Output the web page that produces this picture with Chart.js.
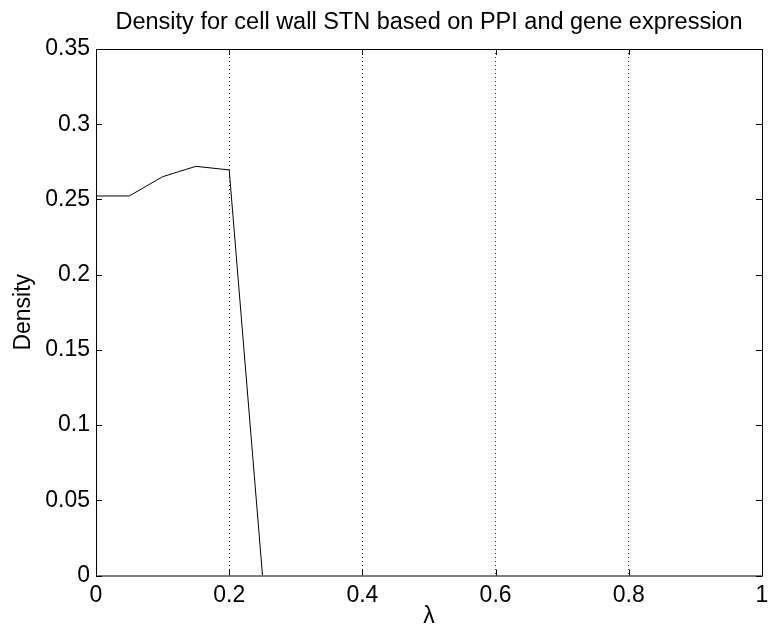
<!DOCTYPE html>
<html lang="en">
<head>
  <meta charset="UTF-8" />
  <title>Density for cell wall STN</title>
  <script src="https://cdn.jsdelivr.net/npm/chart.js"></script>
  <style>
    html, body {
      margin: 0;
      padding: 0;
      background: #fff;
    }
    #wrap {
      width: 770px;
      height: 632px;
    }
  </style>
</head>
<body>
  <div id="wrap"><canvas id="densityChart"></canvas></div>

  <script>
    // data
    const lambdaValues = [0, 0.05, 0.1, 0.15, 0.2, 0.25];
    const densityValues = [0.2523, 0.2523, 0.2651, 0.2720, 0.2696, 0];
    const xTicks = [0, 0.2, 0.4, 0.6, 0.8, 1];
    const yTicks = [0, 0.05, 0.1, 0.15, 0.2, 0.25, 0.3, 0.35];

    const FONT = 'Arial, "Liberation Sans", Helvetica, sans-serif';

    // box round the axes with inward ticks on all four sides (matlab style)
    const boxPlugin = {
      id: 'box',
      afterDraw(chart) {
        const ctx = chart.ctx;
        const a = chart.chartArea;
        const xs = chart.scales.x, ys = chart.scales.y;
        const len = 6;
        ctx.save();
        ctx.strokeStyle = '#000';
        ctx.lineWidth = 1;
        ctx.strokeRect(a.left + 0.5, a.top + 0.5, a.right - a.left, a.bottom - a.top);
        ctx.beginPath();
        xTicks.forEach(v => {
          const px = Math.round(xs.getPixelForValue(v)) + 0.5;
          ctx.moveTo(px, a.bottom); ctx.lineTo(px, a.bottom - len);
          ctx.moveTo(px, a.top); ctx.lineTo(px, a.top + len);
        });
        yTicks.forEach(v => {
          const py = Math.round(ys.getPixelForValue(v)) + 0.5;
          ctx.moveTo(a.left, py); ctx.lineTo(a.left + len, py);
          ctx.moveTo(a.right, py); ctx.lineTo(a.right - len, py);
        });
        ctx.stroke();
        ctx.restore();
      }
    };

    const ctx = document.getElementById('densityChart').getContext('2d');
    new Chart(ctx, {
      type: 'line',
      data: {
        datasets: [{
          data: lambdaValues.map((x, i) => ({ x: x, y: densityValues[i] })),
          borderColor: '#000',
          borderWidth: 1,
          pointRadius: 0,
          tension: 0,
          fill: false
        }]
      },
      options: {
        responsive: true,
        maintainAspectRatio: false,
        animation: false,
        layout: { padding: { left: 0, right: 8, top: 0, bottom: 0 } },
        plugins: {
          legend: { display: false },
          tooltip: { enabled: false },
          title: {
            display: true,
            fullSize: false,
            text: 'Density for cell wall STN based on PPI and gene expression',
            color: '#000',
            font: { family: FONT, size: 23.5, weight: 'normal', lineHeight: 1.2 },
            padding: { top: 8.4, bottom: 12.4 }
          }
        },
        scales: {
          x: {
            type: 'linear',
            min: 0,
            max: 1,
            afterBuildTicks: s => { s.ticks = xTicks.map(v => ({ value: v })); },
            afterFit: s => { s.height = 56.5; s.paddingLeft = 0; s.paddingRight = 0; },
            ticks: {
              color: '#000',
              font: { family: FONT, size: 23 },
              padding: 6,
              maxRotation: 0,
              callback: v => String(+v.toFixed(2))
            },
            grid: {
              drawTicks: false,
              color: c => (c.tick && c.tick.value > 0 && c.tick.value < 1) ? '#333' : 'rgba(0,0,0,0)',
              lineWidth: 1
            },
            border: { display: false, dash: [1, 3] },
            title: {
              display: true,
              text: 'λ',
              color: '#000',
              font: { family: FONT, size: 23 },
              padding: { top: 0, bottom: 2 }
            }
          },
          y: {
            min: 0,
            max: 0.35,
            afterBuildTicks: s => { s.ticks = yTicks.map(v => ({ value: v })); },
            afterFit: s => { s.width = 96; s.paddingTop = 0; s.paddingBottom = 0; },
            ticks: {
              color: '#000',
              font: { family: FONT, size: 23 },
              padding: 6,
              callback: v => String(+v.toFixed(2))
            },
            grid: { display: false, drawTicks: false },
            border: { display: false },
            title: {
              display: true,
              text: 'Density',
              color: '#000',
              font: { family: FONT, size: 23 },
              padding: { top: 10, bottom: 0 }
            }
          }
        }
      },
      plugins: [boxPlugin]
    });
  </script>
</body>
</html>
